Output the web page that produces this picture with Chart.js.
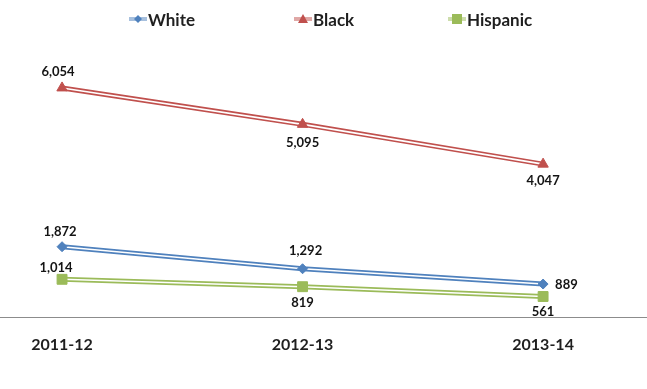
<!DOCTYPE html>
<html>
<head>
<meta charset="utf-8">
<script src="https://cdn.jsdelivr.net/npm/chart.js@4"></script>
<style>
  html, body { margin: 0; padding: 0; background: #fff; }
  #wrap { position: relative; width: 647px; height: 389px; }
  #legend { position: absolute; top: 9px; left: 0; width: 647px; height: 20px;
            font: bold 17px Lato, sans-serif; color: #1f1f1f; }
  .item { position: absolute; top: 0; height: 20px; display: flex; align-items: center; }
  .item canvas { margin-right: 1px; }
</style>
</head>
<body>
<div id="wrap">
  <canvas id="chart" width="647" height="389"></canvas>
  <div id="legend"></div>
</div>
<script>
// school years on the x axis
const years = ["2011-12", "2012-13", "2013-14"];

// counts per group
const whiteVals = [1872, 1292, 889];
const blackVals = [6054, 5095, 4047];
const hispanicVals = [1014, 819, 561];

// where each value label sits relative to its point: [dx, dy, align]
const whiteSpots = [[-2, -15, "center"], [3, -18, "center"], [12, 1, "left"]];
const blackSpots = [[-4, -16, "center"], [0, 18, "center"], [0, 17, "center"]];
const hispanicSpots = [[-6, -11, "center"], [0, 16, "center"], [0, 15, "center"]];

const series = [
    { name: "White", values: whiteVals, color: "#4F81BD", shape: "rectRot", radius: 5, spots: whiteSpots, legendX: 138 },
    { name: "Black", values: blackVals, color: "#C0504D", shape: "triangle", radius: 6, spots: blackSpots, legendX: 303 },
    { name: "Hispanic", values: hispanicVals, color: "#9BBB59", shape: "rect", radius: 7, spots: hispanicSpots, legendX: 457 }
];

function toPoints(values) {
    return values.map((v, i) => ({ x: i, y: v }));
}

// markers first so they are drawn on top, then white core, then coloured outer line
const datasets = [];
series.forEach(s => datasets.push({
    label: s.name,
    data: toPoints(s.values),
    showLine: false,
    pointStyle: s.shape,
    pointRadius: s.radius,
    pointBackgroundColor: s.color,
    pointBorderColor: s.color,
    pointBorderWidth: 1,
    labelSpots: s.spots
}));
series.forEach(s => datasets.push({
    data: toPoints(s.values),
    borderColor: "#ffffff",
    borderWidth: 1.6,
    pointRadius: 0,
    tension: 0
}));
series.forEach(s => datasets.push({
    data: toPoints(s.values),
    borderColor: s.color,
    borderWidth: 5,
    pointRadius: 0,
    tension: 0
}));

// value labels next to the markers
const valueLabels = {
    id: "valueLabels",
    afterDatasetsDraw(chart) {
        const ctx = chart.ctx;
        ctx.save();
        ctx.font = "bold 13px Lato, sans-serif";
        ctx.fillStyle = "#141414";
        ctx.textBaseline = "middle";
        chart.data.datasets.forEach((ds, i) => {
            if (!ds.labelSpots) return;
            const meta = chart.getDatasetMeta(i);
            meta.data.forEach((pt, j) => {
                const [dx, dy, align] = ds.labelSpots[j];
                ctx.textAlign = align;
                ctx.fillText(ds.data[j].y.toLocaleString("en-US"), pt.x + dx, pt.y + dy);
            });
        });
        ctx.restore();
    }
};

new Chart(document.getElementById("chart"), {
    type: "line",
    data: { datasets: datasets },
    plugins: [valueLabels],
    options: {
        responsive: false,
        devicePixelRatio: 1,
        animation: false,
        layout: { autoPadding: false, padding: { top: 52, left: 0, right: 0, bottom: 18 } },
        plugins: {
            legend: { display: false },
            tooltip: { enabled: false }
        },
        scales: {
            x: {
                type: "linear",
                min: -0.258,
                max: 2.432,
                afterBuildTicks: scale => { scale.ticks = years.map((y, i) => ({ value: i })); },
                ticks: {
                    padding: 17,
                    color: "#1f1f1f",
                    font: { family: "Lato, sans-serif", size: 16, weight: "bold" },
                    callback: value => years[value] || ""
                },
                grid: { display: false, drawTicks: false },
                border: { display: true, color: "#8c8c8c", width: 1 }
            },
            y: {
                display: false,
                min: 0,
                max: 7000
            }
        }
    }
});

// legend: short double line with the series marker, then the name
const legend = document.getElementById("legend");
series.forEach(s => {
    const item = document.createElement("div");
    item.className = "item";
    item.style.left = (s.legendX - 9) + "px";
    const icon = document.createElement("canvas");
    icon.width = 18;
    icon.height = 14;
    const c = icon.getContext("2d");
    c.strokeStyle = s.color;
    c.lineWidth = 3;
    c.beginPath(); c.moveTo(0, 7); c.lineTo(18, 7); c.stroke();
    c.strokeStyle = "#fff";
    c.lineWidth = 1;
    c.beginPath(); c.moveTo(0, 7); c.lineTo(18, 7); c.stroke();
    c.fillStyle = s.color;
    c.beginPath();
    if (s.shape === "rectRot") {
        c.moveTo(9, 3); c.lineTo(13, 7); c.lineTo(9, 11); c.lineTo(5, 7);
    } else if (s.shape === "triangle") {
        c.moveTo(9, 2); c.lineTo(14, 11); c.lineTo(4, 11);
    } else {
        c.rect(4, 2, 10, 10);
    }
    c.closePath();
    c.fill();
    const text = document.createElement("span");
    text.textContent = s.name;
    item.appendChild(icon);
    item.appendChild(text);
    legend.appendChild(item);
});
</script>
</body>
</html>
